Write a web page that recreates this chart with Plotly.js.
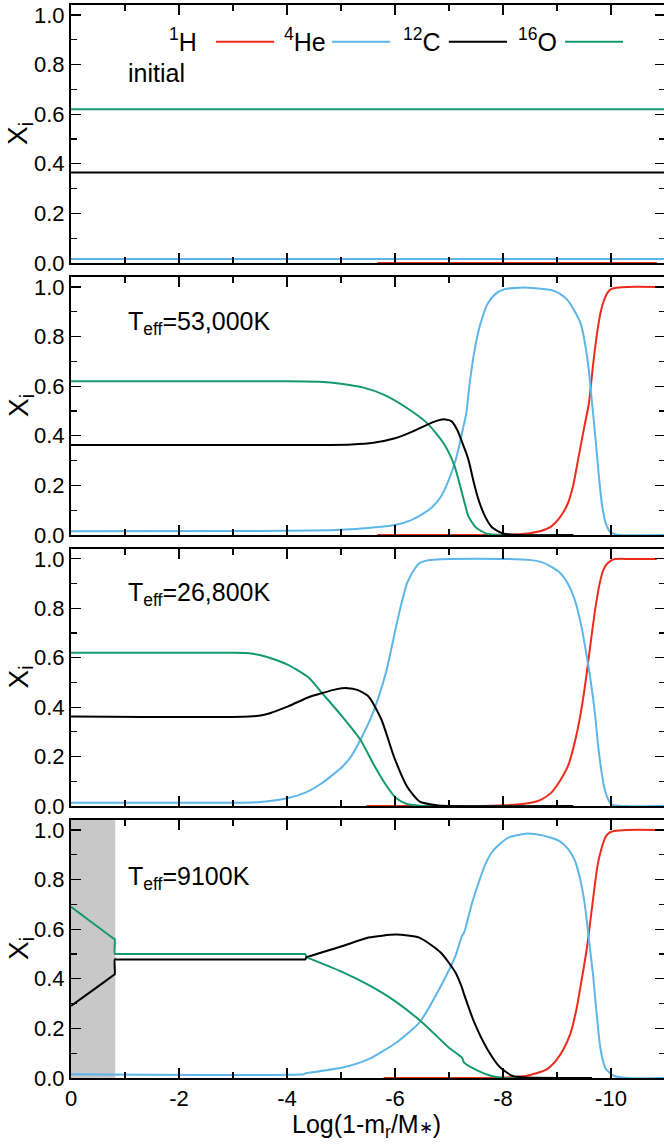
<!DOCTYPE html>
<html>
<head>
<meta charset="utf-8">
<script src="https://cdn.plot.ly/plotly-3.0.1.min.js"></script>
<style>
  html, body { margin: 0; padding: 0; overflow: hidden; background: #fff; }
  #chart { width: 672px; height: 1146px; }
</style>
</head>
<body>
<div id="chart"></div>
<script>
// Mass-fraction profiles X_i versus Log(1 - m_r/M*) for four evolutionary stages.

const speciesLabels = ['<sup>1</sup>H', '<sup>4</sup>He', '<sup>12</sup>C', '<sup>16</sup>O'];
const panelLabels = ['initial', 'T<sub>eff</sub>=53,000K', 'T<sub>eff</sub>=26,800K', 'T<sub>eff</sub>=9100K'];
const xTickVals = [0, -2, -4, -6, -8, -10];
const xTickText = ['0', '-2', '-4', '-6', '-8', '-10'];
const yTickVals = [0, 0.2, 0.4, 0.6, 0.8, 1.0];
const yTickText = ['0.0', '0.2', '0.4', '0.6', '0.8', '1.0'];

// Panel 1: initial model
const p1_H_x = [-5.67, -10.85];
const p1_H_y = [0, 0];
const p1_He_x = [0, -11];
const p1_He_y = [0.016, 0.016];
const p1_C_x = [0, -11];
const p1_C_y = [0.365, 0.365];
const p1_O_x = [0, -11];
const p1_O_y = [0.62, 0.62];

// Panel 2: Teff = 53,000 K
const p2_H_x = [-5.67, -7.5, -8.02, -8.3, -8.49, -8.7, -8.89, -9.05, -9.2, -9.3, -9.4, -9.5, -9.59, -9.67, -9.75, -9.81, -9.87, -9.94, -10.02, -10.15, -10.3, -10.85];
const p2_H_y = [0, 0, 0.001, 0.003, 0.007, 0.016, 0.034, 0.07, 0.127, 0.2, 0.315, 0.43, 0.53, 0.69, 0.825, 0.9, 0.946, 0.978, 0.993, 0.998, 1.0, 1.0];
const p2_He_x = [0, -3.5, -4.5, -5.0, -5.5, -6.0, -6.3, -6.53, -6.7, -6.85, -7.02, -7.12, -7.2, -7.27, -7.32, -7.36, -7.4, -7.47, -7.55, -7.63, -7.71, -7.85, -8.02, -8.3, -8.6, -8.9, -9.05, -9.2, -9.32, -9.44, -9.52, -9.59, -9.65, -9.71, -9.77, -9.83, -9.9, -9.98, -10.06, -10.14, -11];
const p2_He_y = [0.015, 0.016, 0.018, 0.021, 0.028, 0.04, 0.06, 0.087, 0.115, 0.154, 0.235, 0.3, 0.37, 0.44, 0.49, 0.57, 0.64, 0.74, 0.825, 0.885, 0.93, 0.97, 0.99, 0.997, 0.995, 0.987, 0.973, 0.946, 0.905, 0.852, 0.77, 0.664, 0.53, 0.396, 0.25, 0.127, 0.05, 0.013, 0.004, 0.0, 0.0];
const p2_C_x = [0, -4.6, -5.2, -5.6, -6.0, -6.3, -6.6, -6.8, -6.93, -7.05, -7.16, -7.25, -7.32, -7.37, -7.45, -7.55, -7.67, -7.8, -8.0, -8.3, -9.3];
const p2_C_y = [0.363, 0.363, 0.365, 0.372, 0.39, 0.415, 0.445, 0.462, 0.466, 0.458, 0.42, 0.37, 0.33, 0.295, 0.22, 0.14, 0.074, 0.03, 0.006, 0.0, 0];
const p2_O_x = [0, -4.0, -4.6, -5.0, -5.4, -5.8, -6.2, -6.6, -6.9, -7.1, -7.3, -7.36, -7.5, -7.7, -8.0, -9.3];
const p2_O_y = [0.62, 0.62, 0.618, 0.61, 0.595, 0.565, 0.515, 0.45, 0.37, 0.28, 0.12, 0.075, 0.03, 0.005, 0, 0];

// Panel 3: Teff = 26,800 K
const p3_H_x = [-5.47, -7.6, -8.02, -8.3, -8.49, -8.7, -8.89, -9.05, -9.2, -9.32, -9.44, -9.54, -9.63, -9.71, -9.79, -9.85, -9.91, -10.0, -10.06, -10.3, -10.85];
const p3_H_y = [0, 0, 0.003, 0.007, 0.012, 0.025, 0.053, 0.1, 0.16, 0.25, 0.376, 0.52, 0.672, 0.8, 0.9, 0.95, 0.976, 0.993, 0.999, 1.0, 1.0];
const p3_He_x = [0, -3.0, -3.5, -4.02, -4.35, -4.65, -5.03, -5.2, -5.36, -5.59, -5.83, -6.02, -6.12, -6.22, -6.35, -6.45, -6.6, -6.77, -7.0, -8.0, -8.49, -8.7, -8.89, -9.05, -9.2, -9.32, -9.44, -9.54, -9.63, -9.71, -9.75, -9.81, -9.87, -9.95, -10.02, -10.22, -11];
const p3_He_y = [0.013, 0.013, 0.016, 0.032, 0.055, 0.093, 0.16, 0.205, 0.268, 0.376, 0.538, 0.726, 0.82, 0.9, 0.955, 0.982, 0.994, 0.998, 1.0, 1.0, 0.996, 0.988, 0.969, 0.945, 0.9, 0.84, 0.74, 0.62, 0.497, 0.36, 0.268, 0.16, 0.08, 0.025, 0.005, 0, 0];
const p3_C_x = [0, -3.3, -3.6, -4.02, -4.4, -4.65, -4.9, -5.12, -5.3, -5.51, -5.75, -5.98, -6.22, -6.45, -6.77, -7.0, -9.3];
const p3_C_y = [0.362, 0.362, 0.37, 0.403, 0.44, 0.457, 0.472, 0.477, 0.47, 0.443, 0.349, 0.2, 0.08, 0.019, 0.003, 0, 0];
const p3_O_x = [0, -3.0, -3.3, -3.6, -4.02, -4.4, -4.65, -5.02, -5.36, -5.59, -5.83, -6.02, -6.22, -6.53, -9.3];
const p3_O_y = [0.62, 0.62, 0.618, 0.605, 0.571, 0.52, 0.457, 0.363, 0.268, 0.174, 0.086, 0.032, 0.008, 0, 0];

// Panel 4: Teff = 9100 K (shaded region marks the innermost zone)
const shadedEdge = -0.82;
const p4_H_x = [-5.79, -7.7, -8.02, -8.42, -8.6, -8.81, -8.98, -9.12, -9.25, -9.36, -9.46, -9.55, -9.65, -9.75, -9.83, -9.91, -9.98, -10.06, -10.3, -10.85];
const p4_H_y = [0, 0, 0.002, 0.008, 0.018, 0.035, 0.07, 0.116, 0.18, 0.277, 0.4, 0.519, 0.69, 0.855, 0.93, 0.976, 0.99, 0.996, 1.0, 1.0];
const p4_He_x = [0, -4.3, -4.34, -4.36, -4.5, -5.03, -5.5, -6.02, -6.45, -6.85, -7.12, -7.24, -7.28, -7.42, -7.55, -7.67, -7.79, -7.95, -8.1, -8.42, -8.73, -9.04, -9.2, -9.32, -9.42, -9.51, -9.59, -9.67, -9.73, -9.79, -9.85, -9.91, -10.06, -10.3, -11];
const p4_He_y = [0.015, 0.015, 0.018, 0.02, 0.024, 0.042, 0.075, 0.142, 0.223, 0.371, 0.492, 0.573, 0.586, 0.7, 0.788, 0.86, 0.909, 0.945, 0.969, 0.985, 0.978, 0.956, 0.925, 0.882, 0.81, 0.707, 0.56, 0.411, 0.27, 0.142, 0.07, 0.035, 0.008, 0, 0];
const p4_C_x = [0, -0.4, -0.79, -0.81, -0.81, -0.84, -4.3, -4.34, -4.36, -4.45, -4.7, -5.03, -5.51, -6.02, -6.45, -6.85, -7.12, -7.24, -7.28, -7.47, -7.71, -7.95, -8.18, -8.42, -9.65];
const p4_C_y = [0.29, 0.353, 0.415, 0.418, 0.478, 0.478, 0.478, 0.478, 0.487, 0.493, 0.51, 0.532, 0.566, 0.578, 0.566, 0.505, 0.425, 0.364, 0.337, 0.223, 0.116, 0.042, 0.008, 0.002, 0];
const p4_O_x = [0, -0.4, -0.79, -0.81, -0.81, -0.84, -4.3, -4.34, -4.36, -4.45, -5.0, -5.5, -6.0, -6.5, -7.0, -7.24, -7.28, -7.55, -7.79, -8.02, -9.24];
const p4_O_y = [0.69, 0.625, 0.562, 0.56, 0.5, 0.5, 0.5, 0.5, 0.487, 0.479, 0.43, 0.376, 0.31, 0.225, 0.122, 0.082, 0.062, 0.028, 0.008, 0, 0];

const speciesColors = ['#ee2a1b', '#5cb6e8', '#000000', '#139a6c'];

const panels = [
  [[p1_H_x, p1_H_y], [p1_He_x, p1_He_y], [p1_C_x, p1_C_y], [p1_O_x, p1_O_y]],
  [[p2_H_x, p2_H_y], [p2_He_x, p2_He_y], [p2_C_x, p2_C_y], [p2_O_x, p2_O_y]],
  [[p3_H_x, p3_H_y], [p3_He_x, p3_He_y], [p3_C_x, p3_C_y], [p3_O_x, p3_O_y]],
  [[p4_H_x, p4_H_y], [p4_He_x, p4_He_y], [p4_C_x, p4_C_y], [p4_O_x, p4_O_y]]
];

// Layout geometry (pixels)
const H = 1146;
const panelTops = [5, 277, 549, 820];
const panelBottoms = [263, 535, 806, 1078];
const FONT = 'Liberation Sans, Arial, sans-serif';

// draw order: H, He, O, C (carbon on top)
const drawOrder = [0, 1, 3, 2];
const traces = [];
panels.forEach((series, p) => {
  const sfx = p === 0 ? '' : String(p + 1);
  drawOrder.forEach(s => {
    traces.push({
      type: 'scatter', mode: 'lines',
      x: series[s][0], y: series[s][1],
      xaxis: 'x' + sfx, yaxis: 'y' + sfx,
      line: { color: speciesColors[s], width: 2, shape: 'spline', smoothing: 0.6 },
      showlegend: false, hoverinfo: 'skip'
    });
  });
});

const layout = {
  width: 672, height: H,
  margin: { l: 71, r: 7, t: 0, b: 0 },
  paper_bgcolor: '#fff', plot_bgcolor: '#fff',
  showlegend: false,
  font: { family: FONT, color: '#000', size: 22 },
  annotations: [], shapes: []
};

for (let p = 0; p < 4; p++) {
  const sfx = p === 0 ? '' : String(p + 1);
  const dom = [1 - panelBottoms[p] / H, 1 - panelTops[p] / H];
  layout['xaxis' + sfx] = {
    anchor: 'y' + sfx, domain: [0, 1],
    range: [0, -11], autorange: false,
    tickmode: 'array', tickvals: xTickVals, ticktext: xTickText,
    showticklabels: p === 3,
    ticks: 'inside', ticklen: 10, tickwidth: 1.2, tickcolor: '#000',
    minor: { tickmode: 'linear', tick0: 0, dtick: 1, ticks: 'inside', ticklen: 6, tickwidth: 1.2, tickcolor: '#000' },
    showline: true, linewidth: 2, linecolor: '#000', mirror: 'ticks',
    showgrid: false, zeroline: false,
    tickfont: { family: FONT, size: 22, color: '#000' }
  };
  layout['yaxis' + sfx] = {
    anchor: 'x' + sfx, domain: dom,
    range: [0, 1.04], autorange: false,
    tickmode: 'array', tickvals: yTickVals, ticktext: yTickText,
    ticks: 'inside', ticklen: 10, tickwidth: 1.2, tickcolor: '#000',
    minor: { tickmode: 'linear', tick0: 0, dtick: 0.1, ticks: 'inside', ticklen: 6, tickwidth: 1.2, tickcolor: '#000' },
    showline: true, linewidth: 2, linecolor: '#000', mirror: 'ticks',
    showgrid: false, zeroline: false,
    tickfont: { family: FONT, size: 22, color: '#000' }
  };

  // y-axis title
  layout.annotations.push({
    xref: 'paper', yref: 'y' + sfx + ' domain', x: 0, y: 0.5,
    xanchor: 'center', yanchor: 'middle', xshift: -51, textangle: -90,
    text: 'X<sub>i</sub>', showarrow: false,
    font: { family: FONT, size: 28, color: '#000' }
  });

  // stage label
  const labelY = [0.736, 0.82, 0.825, 0.775][p];
  layout.annotations.push({
    xref: 'x' + sfx + ' domain', yref: 'y' + sfx + ' domain', x: 0.0926, y: labelY,
    xanchor: 'left', yanchor: 'middle',
    text: panelLabels[p], showarrow: false,
    font: { family: FONT, size: 25, color: '#000' }
  });
}

// shaded inner zone of the last panel
layout.shapes.push({
  type: 'rect', layer: 'below', xref: 'x4', yref: 'y4 domain',
  x0: 0, x1: shadedEdge, y0: 0, y1: 1,
  fillcolor: '#c8c8c8', line: { width: 0 }
});

// key in the first panel: label followed by a line sample
const keyTextRight = [0.2155, 0.4327, 0.626, 0.8215];
const keyLine = [[0.244, 0.342], [0.4394, 0.537], [0.636, 0.734], [0.8316, 0.9293]];
const keyY = 0.858;
for (let s = 0; s < 4; s++) {
  layout.annotations.push({
    xref: 'x domain', yref: 'y domain', x: keyTextRight[s], y: keyY,
    xanchor: 'right', yanchor: 'middle', yshift: 2,
    text: speciesLabels[s], showarrow: false,
    font: { family: FONT, size: 25, color: '#000' }
  });
  layout.shapes.push({
    type: 'line', xref: 'x domain', yref: 'y domain',
    x0: keyLine[s][0], x1: keyLine[s][1], y0: keyY, y1: keyY,
    line: { color: speciesColors[s], width: 2 }
  });
}

// x-axis title under the bottom panel
layout.annotations.push({
  xref: 'paper', yref: 'paper', x: 0.498, y: 0,
  xanchor: 'center', yanchor: 'middle', yshift: 20,
  text: "Log(1-m<sub>r</sub>/M<span style='font-size:17px'>∗</span>)", showarrow: false,
  font: { family: FONT, size: 25, color: '#000' }
});

Plotly.newPlot('chart', traces, layout, { staticPlot: true, displayModeBar: false });
</script>
</body>
</html>
